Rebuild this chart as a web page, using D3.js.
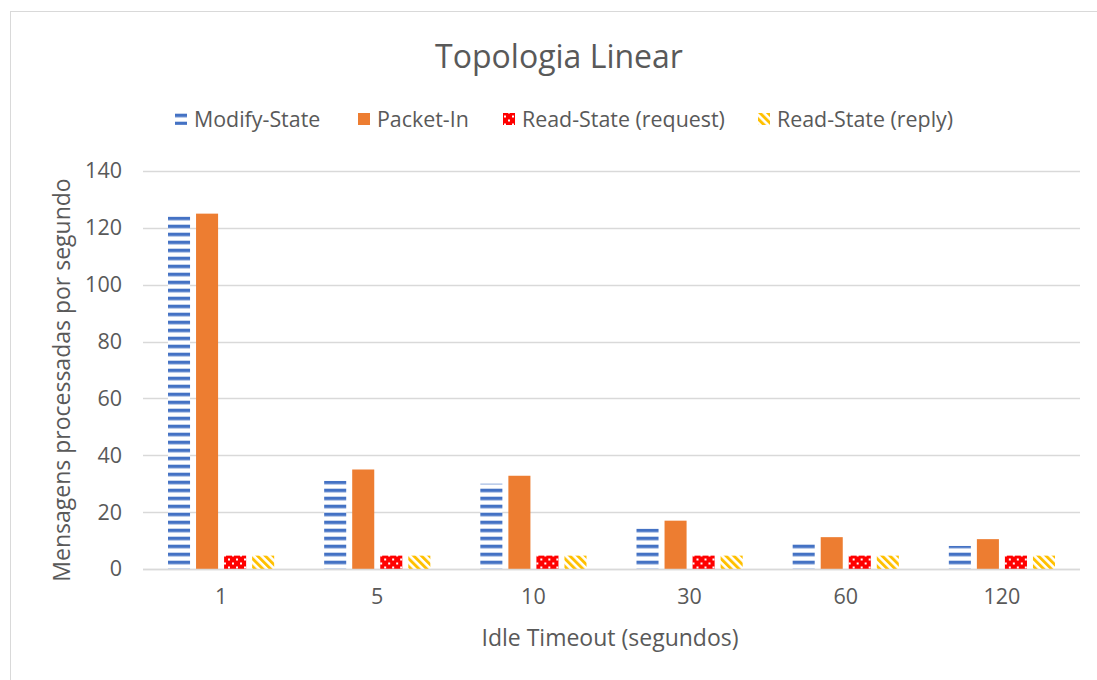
<!DOCTYPE html>
<html>
<head>
<meta charset="utf-8">
<script src="https://cdn.jsdelivr.net/npm/d3@7"></script>
<style>
  html, body { margin: 0; padding: 0; background: #fff; }
  svg { display: block; }
  text { font-family: "Open Sans", sans-serif; fill: #595959; }
</style>
</head>
<body>
<svg id="chart" width="1097" height="680"></svg>
<script>
// Idle timeout values (seconds) on the category axis
const categories = ["1", "5", "10", "30", "60", "120"];
const seriesNames = ["Modify-State", "Packet-In", "Read-State (request)", "Read-State (reply)"];

// Messages processed per second, one array per OpenFlow message type
const modifyState = [124, 31, 30, 14.2, 8.8, 8.1];
const packetIn = [125, 35, 32.8, 17, 11.2, 10.5];
const readStateRequest = [4.7, 4.7, 4.7, 4.7, 4.7, 4.7];
const readStateReply = [4.7, 4.7, 4.7, 4.7, 4.7, 4.7];

const yTicks = [0, 20, 40, 60, 80, 100, 120, 140];

const titleText = "Topologia Linear";
const xTitle = "Idle Timeout (segundos)";
const yTitle = "Mensagens processadas por segundo";

const seriesValues = [modifyState, packetIn, readStateRequest, readStateReply];
const fills = ["url(#pat-modify)", "#ED7D31", "url(#pat-request)", "url(#pat-reply)"];

const svg = d3.select("#chart");
const W = 1097, H = 680;

// chart area frame
svg.append("rect")
  .attr("x", 10.5).attr("y", 11.5)
  .attr("width", W + 10).attr("height", H + 10)
  .attr("fill", "#fff").attr("stroke", "#D9D9D9").attr("stroke-width", 1);

// fill patterns
const defs = svg.append("defs");

// wide horizontal stripes
const pMod = defs.append("pattern").attr("id", "pat-modify")
  .attr("patternUnits", "userSpaceOnUse").attr("width", 8).attr("height", 8)
  .attr("y", 0.7);
pMod.append("rect").attr("width", 8).attr("height", 8).attr("fill", "#fff");
pMod.append("rect").attr("y", 0).attr("width", 8).attr("height", 3.5).attr("fill", "#4472C4");

// red with small white dots
const pReq = defs.append("pattern").attr("id", "pat-request")
  .attr("patternUnits", "userSpaceOnUse").attr("width", 8).attr("height", 8)
  .attr("y", 569);
pReq.append("rect").attr("width", 8).attr("height", 8).attr("fill", "#FF0000");
pReq.append("rect").attr("x", 1).attr("y", 1.5).attr("width", 2).attr("height", 2).attr("fill", "#fff");
pReq.append("rect").attr("x", 5).attr("y", 5.5).attr("width", 2).attr("height", 2).attr("fill", "#fff");

// wide downward diagonal stripes
const pRep = defs.append("pattern").attr("id", "pat-reply")
  .attr("patternUnits", "userSpaceOnUse").attr("width", 5.5).attr("height", 5.5)
  .attr("patternTransform", "rotate(-45)");
pRep.append("rect").attr("width", 5.5).attr("height", 5.5).attr("fill", "#fff");
pRep.append("rect").attr("width", 2.9).attr("height", 5.5).attr("fill", "#FFC000");

// plot area
const plot = { left: 143, right: 1080, top: 171, bottom: 569 };

const x0 = d3.scaleBand().domain(categories).range([plot.left, plot.right]);
const groupPad = 25;
const x1 = d3.scaleBand().domain(seriesNames)
  .range([groupPad, x0.bandwidth() - groupPad])
  .paddingInner(0.214).paddingOuter(0);
const y = d3.scaleLinear().domain([0, 140]).range([plot.bottom, plot.top]);

// gridlines
svg.append("g")
  .selectAll("line").data(yTicks).join("line")
  .attr("x1", plot.left).attr("x2", plot.right)
  .attr("y1", d => Math.round(y(d)) + 0.5).attr("y2", d => Math.round(y(d)) + 0.5)
  .attr("stroke", "#D9D9D9").attr("stroke-width", 1.3);

// y axis labels
const yAxis = d3.axisLeft(y).tickValues(yTicks).tickSize(0).tickPadding(0);
const gy = svg.append("g").attr("transform", `translate(${plot.left - 21},0)`).call(yAxis);
gy.select(".domain").remove();
gy.selectAll("text").attr("font-size", 21.5).attr("fill", "#595959")
  .style("font-family", "'Open Sans', sans-serif");

// x axis labels
const xAxis = d3.axisBottom(x0).tickSize(0).tickPadding(0);
const gx = svg.append("g").attr("transform", `translate(0,${plot.bottom + 20})`).call(xAxis);
gx.select(".domain").remove();
gx.selectAll("text").attr("font-size", 21.5).attr("fill", "#595959")
  .style("font-family", "'Open Sans', sans-serif");

// bars
const groups = svg.append("g").selectAll("g").data(categories).join("g")
  .attr("transform", d => `translate(${x0(d)},0)`);

groups.selectAll("rect")
  .data((c, i) => seriesNames.map((s, k) => ({ s, k, v: seriesValues[k][i] })))
  .join("rect")
  .attr("x", d => x1(d.s))
  .attr("width", x1.bandwidth())
  .attr("y", d => y(d.v))
  .attr("height", d => y(0) - y(d.v))
  .attr("fill", d => fills[d.k]);

// axis baseline
svg.append("line")
  .attr("x1", plot.left).attr("x2", plot.right)
  .attr("y1", plot.bottom + 0.5).attr("y2", plot.bottom + 0.5)
  .attr("stroke", "#D9D9D9").attr("stroke-width", 1.3);

// title
svg.append("text").attr("x", 559).attr("y", 68)
  .attr("text-anchor", "middle").attr("font-size", 32).text(titleText);

// axis titles
svg.append("text").attr("x", 610).attr("y", 646)
  .attr("text-anchor", "middle").attr("font-size", 23).text(xTitle);
svg.append("text")
  .attr("transform", "translate(70,380) rotate(-90)")
  .attr("text-anchor", "middle").attr("font-size", 23).text(yTitle);

// legend
const legendX = [175, 358, 503, 758];
const leg = svg.append("g").selectAll("g").data(seriesNames).join("g")
  .attr("transform", (d, i) => `translate(${legendX[i]},113)`);
leg.append("rect").attr("width", 12).attr("height", 12).attr("y", 0)
  .attr("fill", (d, i) => fills[i]);
leg.append("text").attr("x", 19).attr("y", 14).attr("font-size", 21.4).text(d => d);
</script>
</body>
</html>
